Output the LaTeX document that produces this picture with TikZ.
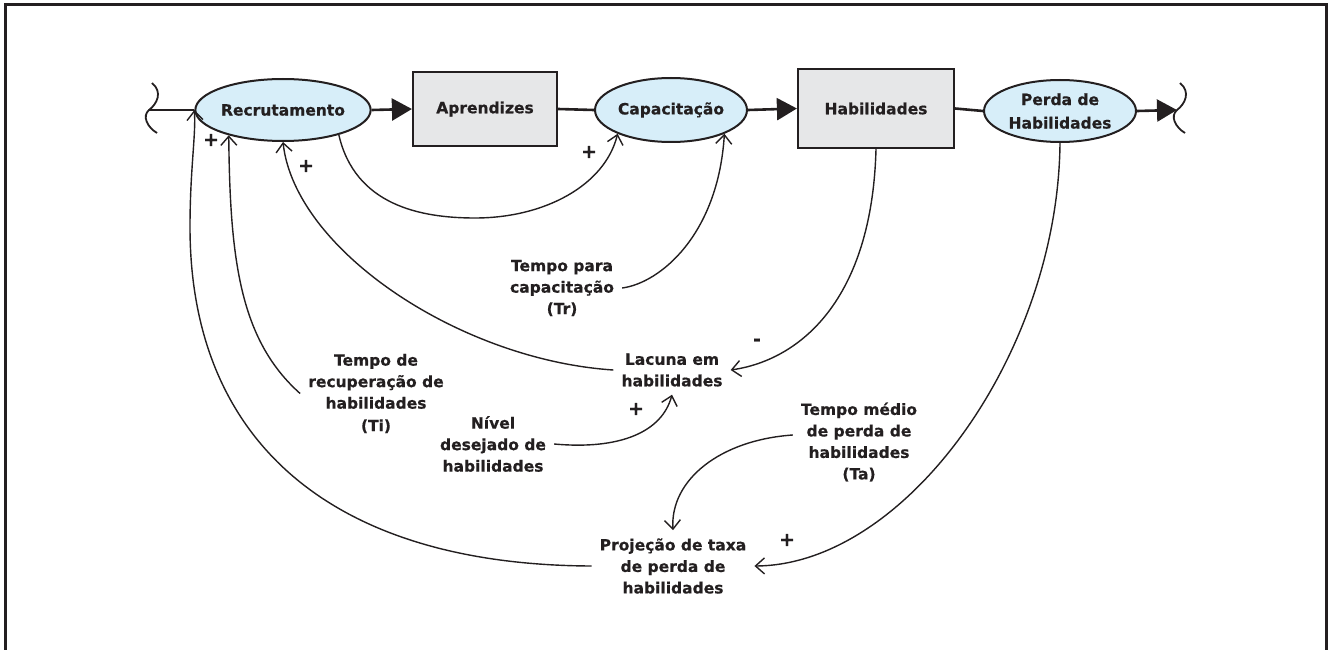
\documentclass[tikz,border=0pt]{standalone}
\usepackage{fontspec}
\setmainfont{DejaVu Sans}[BoldFeatures={FakeBold=0.6}]
\usetikzlibrary{shapes.geometric,arrows.meta}
\definecolor{ink}{HTML}{231F20}
\definecolor{ratefill}{HTML}{D7EEF9}
\definecolor{stockfill}{HTML}{E6E7E8}
\begin{document}
\begin{tikzpicture}[x=1pt,y=-1pt,
  every node/.style={font=\fontsize{15.5}{21.5}\selectfont\bfseries, text=ink},
  rate/.style={ellipse, draw=ink, line width=2pt, fill=ratefill,
    minimum width=152pt, minimum height=62pt, inner sep=0pt, align=center},
  stock/.style={rectangle, draw=ink, line width=2.2pt, fill=stockfill, inner sep=0pt},
  aux/.style={align=center, inner sep=8pt},
  sign/.style={inner sep=0pt, font=\fontsize{19}{19}\selectfont\bfseries},
  flow/.style={draw=ink, line width=2.6pt},
  flowtip/.style={-{Triangle[length=20pt,width=22pt]}},
  link/.style={draw=ink, line width=1.4pt,
    -{Straight Barb[length=9pt,width=16pt,line width=1.4pt]}},
  cloud/.style={draw=ink, line width=1.8pt}
]
\useasboundingbox (0,0) rectangle (1328,650);

% outer frame (open at the bottom edge of the page)
\draw[ink, line width=3pt] (5.3,650) -- (5.3,5) -- (1326.7,5) -- (1326.7,650);

% stocks and rates
\node[rate] (rec) at (283,110) {Recrutamento};
\node[stock, minimum width=144pt, minimum height=74pt] (apr) at (485,109) {Aprendizes};
\node[rate, minimum height=64pt] (cap) at (671,110) {Capacitação};
\node[stock, minimum width=156pt, minimum height=79pt] (hab) at (876,108.5) {Habilidades};
\node[rate] (per) at (1060,111) {Perda de\\[2pt]Habilidades};

% sources and sinks
\coordinate (lsq) at (149,110);
\coordinate (rsq) at (1177,110);
\draw[cloud] (152,83) .. controls (163,92) and (157,104) .. (lsq)
  .. controls (142,116) and (147,127) .. (157,133);
\draw[cloud] (1180,83) .. controls (1191,92) and (1185,104) .. (rsq)
  .. controls (1170,116) and (1175,127) .. (1185,133);

% material flow
\draw[flow] (lsq) -- (rec.west);
\draw[flow, flowtip] (rec.east) -- (apr.west);
\draw[flow] (apr.east) -- (cap.west);
\draw[flow, flowtip] (cap.east) -- (hab.west);
\draw[flow] (hab.east) -- (per.west);
\draw[flow, flowtip] (per.east) -- (rsq);

% auxiliary variables
\node[aux] (tr) at (562,288) {Tempo para\\capacitação\\(Tr)};
\node[aux] (lac) at (672,370) {Lacuna em\\habilidades};
\node[aux] (ti) at (376,393.5) {Tempo de\\recuperação de\\habilidades\\[1pt](Ti)};
\node[aux] (niv) at (493,444) {Nível\\desejado de\\habilidades};
\node[aux] (tma) at (859,442) {Tempo médio\\de perda de\\habilidades\\(Ta)};
\node[aux] (proj) at (673,566) {Projeção de taxa\\de perda de\\habilidades};

% causal links
\draw[link] (rec.-24) .. controls (355,205) and (420,218) .. (475,218)
  .. controls (545,218) and (605,185) .. (cap.-156);
\draw[link] (tr.east) .. controls (660,283) and (718,235) .. (cap.-24);
\draw[link] (hab.south) .. controls (872,300) and (800,360) .. (lac.east);
\draw[link] (lac.west) .. controls (460,360) and (295,250) .. (rec.south);
\draw[link] (niv.east) .. controls (620,450) and (662,432) .. (lac.south);
\draw[link] (ti.west) .. controls (240,340) and (230,260) .. (rec.-155);
\coordinate (bend) at (190,227);
\draw[link] (proj.west) .. controls (330,565) and (190,440) .. (bend)
  .. controls (190,170) and (196,135) .. (rec.west);
\draw[link] ([yshift=7pt]tma.west) .. controls (720,440) and (670,480) .. (proj.north);
\draw[link] (per.south) .. controls (1058,353) and (906,565) .. (proj.east);

% link polarities
\node[sign] (s1) at (211,140) {+};
\node[sign] (s2) at (306,166) {+};
\node[sign] (s3) at (589,152) {+};
\node[sign] (s4) at (757,342) {-};
\node[sign] (s5) at (636,409) {+};
\node[sign] (s6) at (787,540) {+};
\end{tikzpicture}
\end{document}
